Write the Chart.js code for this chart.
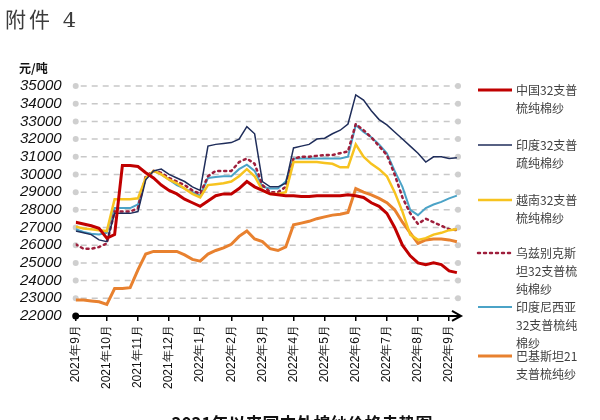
<!DOCTYPE html>
<html>
<head>
<meta charset="utf-8">
<script src="https://cdn.jsdelivr.net/npm/chart.js@4/dist/chart.umd.min.js"></script>
<style>
    html, body { margin: 0; padding: 0; background: #fff; }
    #wrap { width: 600px; height: 420px; position: relative; }
</style>
</head>
<body>
<div id="wrap"><canvas id="priceChart" width="600" height="420"></canvas></div>
<script>
// Label bulan pada sumbu X (satu label tiap 4 titik mingguan)
const months = ['2021年9月', '2021年10月', '2021年11月', '2021年12月', '2022年1月', '2022年2月',
    '2022年3月', '2022年4月', '2022年5月', '2022年6月', '2022年7月', '2022年8月', '2022年9月'];

// Harga mingguan (元/吨)
const china = [27300, 27200, 27100, 26950, 26400, 26600, 30500, 30500, 30450, 30100,
    29800, 29400, 29100, 28900, 28600, 28400, 28200, 28500, 28800, 28900,
    28900, 29200, 29600, 29300, 29100, 28900, 28850, 28800, 28800, 28750,
    28750, 28800, 28800, 28800, 28800, 28850, 28800, 28700, 28400, 28200,
    27800, 27000, 26000, 25400, 25000, 24900, 25000, 24900, 24550, 24450];
const india = [26800, 26700, 26600, 26300, 26200, 27800, 27800, 27800, 27900, 29700,
    30200, 30300, 30000, 29800, 29600, 29300, 29100, 31600, 31700, 31750,
    31800, 32000, 32700, 32300, 29600, 29300, 29300, 29500, 31500, 31600,
    31700, 32000, 32050, 32300, 32500, 32850, 34500, 34200, 33600, 33100,
    32800, 32400, 32000, 31600, 31200, 30700, 31000, 31000, 30900, 30950];
const vietnam = [27050, 26950, 26900, 26850, 26800, 28600, 28600, 28600, 28650, 29800,
    30200, 30000, 29700, 29500, 29200, 28900, 28700, 29400, 29450, 29500,
    29600, 29900, 30300, 29900, 29100, 28900, 28900, 29000, 30700, 30700,
    30700, 30700, 30650, 30600, 30400, 30400, 31700, 31000, 30600, 30300,
    29900, 29000, 27900, 26600, 26300, 26400, 26600, 26700, 26850, 26900];
const uzbekistan = [26050, 25800, 25800, 25900, 26100, 27900, 27900, 27900, 28100, 29900,
    30200, 30100, 29800, 29600, 29400, 29100, 28900, 29900, 30200, 30200,
    30200, 30700, 30900, 30600, 29400, 29000, 29000, 29300, 30900, 31000,
    31000, 31050, 31100, 31100, 31200, 31300, 32850, 32500, 32100, 31600,
    31100, 30000, 28700, 27800, 27200, 27500, 27300, 27100, 26900, 26850];
const indonesia = [26900, 26750, 26650, 26600, 26700, 28100, 28100, 28100, 28300, 29800,
    30200, 30000, 29700, 29400, 29200, 29000, 28800, 29800, 29850, 29900,
    29900, 30300, 30550, 30200, 29300, 29200, 29200, 29600, 30900, 30900,
    30900, 30900, 30900, 30900, 30900, 31000, 32800, 32400, 32100, 31700,
    31200, 30200, 29300, 28000, 27700, 28100, 28300, 28450, 28650, 28800];
const pakistan = [22900, 22900, 22850, 22800, 22650, 23550, 23550, 23600, 24600, 25500,
    25650, 25650, 25650, 25650, 25450, 25200, 25100, 25500, 25700, 25850,
    26050, 26500, 26800, 26350, 26200, 25800, 25700, 25900, 27150, 27250,
    27350, 27500, 27600, 27700, 27750, 27850, 29200, 29000, 28850, 28650,
    28400, 28000, 27300, 26700, 26100, 26300, 26350, 26350, 26300, 26200];

// Teks legenda (dibungkus seperti aslinya)
const legendTexts = [
    ['中国32支普', '梳纯棉纱'],
    ['印度32支普', '疏纯棉纱'],
    ['越南32支普', '梳纯棉纱'],
    ['乌兹别克斯', '坦32支普梳', '纯棉纱'],
    ['印度尼西亚', '32支普梳纯', '棉纱'],
    ['巴基斯坦21', '支普梳纯纱']
];

const toPoints = arr => arr.map((v, i) => ({ x: i, y: v }));

// Plugin untuk grid putus-putus, judul, legenda, dan panah sumbu X
const decorPlugin = {
    id: 'decor',
    beforeDatasetsDraw(chart) {
        const ctx = chart.ctx;
        const area = chart.chartArea;
        const yScale = chart.scales.y;
        ctx.save();
        yScale.ticks.forEach(t => {
            if (t.value === 22000) return;
            const py = yScale.getPixelForValue(t.value);
            // garis putus-putus
            ctx.strokeStyle = '#c8c8c8';
            ctx.lineWidth = 1.5;
            ctx.setLineDash([6, 5]);
            ctx.beginPath();
            ctx.moveTo(area.left + 5, py);
            ctx.lineTo(area.right - 4, py);
            ctx.stroke();
            // titik abu-abu di ujung
            ctx.setLineDash([]);
            ctx.fillStyle = '#cfcfcf';
            [area.left, area.right - 2].forEach(px => {
                ctx.beginPath();
                ctx.arc(px, py, 3, 0, Math.PI * 2);
                ctx.fill();
            });
        });
        ctx.restore();
    },
    afterDraw(chart) {
        const ctx = chart.ctx;
        const area = chart.chartArea;
        ctx.save();

        // sumbu X: titik asal dan panah
        const y0 = area.bottom;
        ctx.fillStyle = '#000';
        ctx.beginPath();
        ctx.arc(area.left, y0, 3.5, 0, Math.PI * 2);
        ctx.fill();
        ctx.strokeStyle = '#000';
        ctx.lineWidth = 2;
        ctx.beginPath();
        ctx.moveTo(area.right - 8, y0 - 5);
        ctx.lineTo(area.right + 1, y0);
        ctx.lineTo(area.right - 8, y0 + 5);
        ctx.stroke();

        // judul atas
        ctx.fillStyle = '#3c3c3c';
        ctx.font = '21px "DejaVu Serif", "Noto Sans CJK SC"';
        ctx.letterSpacing = '3px';
        ctx.textBaseline = 'alphabetic';
        ctx.textAlign = 'left';
        ctx.fillText('附件 4', 5, 27);
        ctx.letterSpacing = '0px';

        // satuan
        ctx.fillStyle = '#111';
        ctx.font = 'bold 12px "Noto Sans CJK SC"';
        ctx.textBaseline = 'middle';
        ctx.fillText('元/吨', 19, 68);

        // judul bawah (terpotong oleh tepi gambar)
        ctx.font = 'bold 17px "Noto Sans CJK SC"';
        ctx.textAlign = 'center';
        ctx.textBaseline = 'top';
        ctx.fillText('2021年以来国内外棉纱价格走势图', 302, 415);

        // legenda
        const legendY = [90, 145, 200, 253, 307, 356];
        ctx.textAlign = 'left';
        ctx.textBaseline = 'middle';
        chart.data.datasets.forEach((ds, i) => {
            const ly = legendY[i];
            ctx.save();
            ctx.strokeStyle = ds.borderColor;
            ctx.lineWidth = ds.borderWidth;
            ctx.lineCap = ds.borderCapStyle || 'butt';
            ctx.setLineDash(ds.borderDash || []);
            ctx.beginPath();
            ctx.moveTo(478, ly);
            ctx.lineTo(512, ly);
            ctx.stroke();
            ctx.restore();
            ctx.fillStyle = '#404040';
            ctx.font = '12px "Noto Sans CJK SC"';
            legendTexts[i].forEach((line, j) => {
                ctx.fillText(line, 516, ly + j * 18);
            });
        });
        ctx.restore();
    }
};

const chartCtx = document.getElementById('priceChart').getContext('2d');
new Chart(chartCtx, {
    type: 'line',
    data: {
        datasets: [
            { label: '中国32支普梳纯棉纱', data: toPoints(china), borderColor: '#c00000', borderWidth: 3 },
            { label: '印度32支普疏纯棉纱', data: toPoints(india), borderColor: '#1f2d5a', borderWidth: 1.5 },
            { label: '越南32支普梳纯棉纱', data: toPoints(vietnam), borderColor: '#f7c31f', borderWidth: 2.5 },
            { label: '乌兹别克斯坦32支普梳纯棉纱', data: toPoints(uzbekistan), borderColor: '#9e1f3c', borderWidth: 2.5, borderDash: [2, 4], borderCapStyle: 'round' },
            { label: '印度尼西亚32支普梳纯棉纱', data: toPoints(indonesia), borderColor: '#4ba3c7', borderWidth: 2 },
            { label: '巴基斯坦21支普梳纯纱', data: toPoints(pakistan), borderColor: '#e8812f', borderWidth: 3 }
        ]
    },
    options: {
        responsive: false,
        animation: false,
        layout: { padding: { left: 14, right: 140, top: 86, bottom: 27 } },
        elements: { point: { radius: 0 }, line: { tension: 0 } },
        plugins: {
            legend: { display: false },
            tooltip: { enabled: false }
        },
        scales: {
            x: {
                type: 'linear',
                min: 0,
                max: 49.4,
                grid: { drawOnChartArea: false, drawTicks: true, tickLength: 5, color: '#000', lineWidth: 1.5 },
                border: { display: true, color: '#000', width: 2 },
                ticks: {
                    stepSize: 4,
                    includeBounds: false,
                    autoSkip: false,
                    minRotation: 90,
                    maxRotation: 90,
                    padding: 4,
                    color: '#111',
                    font: { family: 'Liberation Sans', size: 12 },
                    callback: value => months[value / 4]
                }
            },
            y: {
                min: 22000,
                max: 35000,
                grid: { display: false },
                border: { display: false },
                ticks: {
                    stepSize: 1000,
                    autoSkip: false,
                    padding: 6,
                    color: '#111',
                    font: { family: 'Liberation Sans', size: 15, style: 'italic' },
                    callback: value => String(value)
                }
            }
        }
    },
    plugins: [decorPlugin]
});
</script>
</body>
</html>
